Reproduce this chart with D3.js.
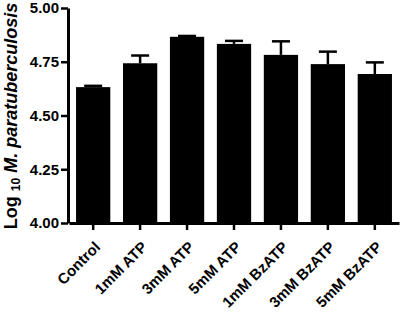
<!DOCTYPE html>
<html>
<head>
<meta charset="utf-8">
<script src="https://cdn.jsdelivr.net/npm/d3@7"></script>
<style>
  body { margin: 0; background: #fff; }
</style>
</head>
<body>
<div id="chart"></div>
<script>
let categories = ["Control", "1mM ATP", "3mM ATP", "5mM ATP", "1mM BzATP", "3mM BzATP", "5mM BzATP"];
let means = [4.632, 4.743, 4.866, 4.833, 4.782, 4.739, 4.693];
let errors = [0.006, 0.036, 0.004, 0.014, 0.063, 0.058, 0.054];
let yTicks = [4.00, 4.25, 4.50, 4.75, 5.00];

let data = categories.map((c, i) => ({name: c, mean: means[i], err: errors[i]}));

let font = "'Liberation Sans', Arial, Helvetica, sans-serif";
let width = 400, height = 313;
let svg = d3.select("#chart").append("svg")
    .attr("width", width)
    .attr("height", height)
    .style("font-family", font)
    .style("font-weight", "bold");

let x = d3.scaleBand()
    .domain(categories)
    .range([69, 399])
    .paddingInner(0.27)
    .paddingOuter(0.15);

let y = d3.scaleLinear()
    .domain([4, 5])
    .range([223, 8]);

// bars
svg.selectAll(".bar")
    .data(data)
    .enter().append("rect")
    .attr("x", d => x(d.name))
    .attr("y", d => y(d.mean))
    .attr("width", x.bandwidth())
    .attr("height", d => y(4) - y(d.mean))
    .style("fill", "#000");

// error bars (upper only)
let eb = svg.selectAll(".err")
    .data(data)
    .enter().append("g");
eb.append("line")
    .attr("x1", d => x(d.name) + x.bandwidth() / 2)
    .attr("x2", d => x(d.name) + x.bandwidth() / 2)
    .attr("y1", d => y(d.mean))
    .attr("y2", d => y(d.mean + d.err))
    .attr("stroke", "#000").attr("stroke-width", 2.5);
eb.append("line")
    .attr("x1", d => x(d.name) + x.bandwidth() / 2 - 9)
    .attr("x2", d => x(d.name) + x.bandwidth() / 2 + 9)
    .attr("y1", d => y(d.mean + d.err))
    .attr("y2", d => y(d.mean + d.err))
    .attr("stroke", "#000").attr("stroke-width", 2.5);

// y axis
let yAxis = svg.append("g")
    .attr("transform", "translate(68,0)")
    .call(d3.axisLeft(y).tickValues(yTicks).tickFormat(d3.format(".2f")).tickSize(7).tickSizeOuter(0));
yAxis.attr("font-family", null).attr("font-size", null);
yAxis.select(".domain").attr("stroke-width", 3);
yAxis.selectAll(".tick line").attr("stroke-width", 2.5);
yAxis.selectAll(".tick text")
    .attr("x", -9)
    .style("font-family", font)
    .style("font-size", "15px")
    .style("fill", "#000");

// x axis
let xAxis = svg.append("g")
    .attr("transform", "translate(0,223)")
    .call(d3.axisBottom(x).tickSize(7).tickSizeOuter(0));
xAxis.attr("font-family", null).attr("font-size", null);
xAxis.select(".domain").attr("stroke-width", 3);
xAxis.selectAll(".tick line").attr("stroke-width", 2.5);
xAxis.selectAll(".tick text")
    .style("font-family", font)
    .style("font-size", "15px")
    .style("fill", "#000")
    .attr("text-anchor", "end")
    .attr("y", 0)
    .attr("dy", 0)
    .attr("transform", "translate(8,25) rotate(-45)");

// y axis title
let title = svg.append("text")
    .attr("transform", "translate(17,116) rotate(-90)")
    .attr("text-anchor", "middle")
    .style("font-family", font)
    .style("font-size", "18px");
title.append("tspan").text("Log ");
title.append("tspan").attr("dy", 3).style("font-size", "12px").text("10");
title.append("tspan").attr("dy", -3).style("font-style", "italic").text(" M. paratuberculosis");
</script>
</body>
</html>
